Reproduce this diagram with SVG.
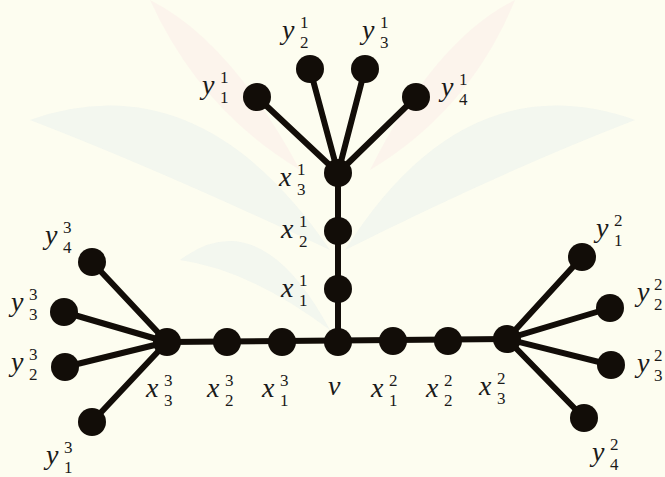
<svg xmlns="http://www.w3.org/2000/svg" width="665" height="477" viewBox="0 0 665 477">
<style>
.bg{fill:#fdfdf0}
.wm1{fill:#eef3ee;opacity:0.7}
.wm2{fill:#fbeeea;opacity:0.6}
.e{stroke:#120d08;stroke-width:6;stroke-linecap:round;fill:none}
.n{fill:#120d08}
text{font-family:"Liberation Serif","Times New Roman",serif}
.l{font-style:italic;font-size:28px;fill:#1a1a1a}
.s{font-size:17px;fill:#1a1a1a}
</style>
<rect class="bg" x="0" y="0" width="665" height="477"/>
<g id="watermark">
<path class="wm2" d="M150 0 Q230 40 300 170 Q200 110 150 0 Z"/>
<path class="wm2" d="M515 0 Q435 40 370 170 Q470 110 515 0 Z"/>
<path class="wm1" d="M30 120 Q200 60 330 250 Q160 170 30 120 Z"/>
<path class="wm1" d="M635 120 Q465 60 345 250 Q505 170 635 120 Z"/>
<path class="wm1" d="M180 260 Q260 200 330 330 Q250 270 180 260 Z"/>
</g>
<g id="connectors">
<line class="e" x1="338" y1="173" x2="338" y2="342"/>
<line class="e" x1="167" y1="342" x2="507" y2="339"/>
<line class="e" x1="338" y1="173" x2="257" y2="97"/>
<line class="e" x1="338" y1="173" x2="310" y2="69"/>
<line class="e" x1="338" y1="173" x2="365" y2="69"/>
<line class="e" x1="338" y1="173" x2="416" y2="97"/>
<line class="e" x1="167" y1="342" x2="92" y2="262"/>
<line class="e" x1="167" y1="342" x2="64" y2="312"/>
<line class="e" x1="167" y1="342" x2="65" y2="367"/>
<line class="e" x1="167" y1="342" x2="92" y2="422"/>
<line class="e" x1="507" y1="339" x2="582" y2="257"/>
<line class="e" x1="507" y1="339" x2="610" y2="308"/>
<line class="e" x1="507" y1="339" x2="611" y2="365"/>
<line class="e" x1="507" y1="339" x2="584" y2="418"/>
</g>
<g id="v"><circle class="n" cx="338" cy="342" r="14"/><text class="l" x="328" y="395">v</text></g>
<g id="x1_1"><circle class="n" cx="338" cy="289" r="14"/><text class="l" x="281" y="297">x</text><text class="s" x="299" y="286">1</text><text class="s" x="299" y="306">1</text></g>
<g id="x2_1"><circle class="n" cx="338" cy="231" r="14"/><text class="l" x="281" y="238">x</text><text class="s" x="299" y="227">1</text><text class="s" x="299" y="247">2</text></g>
<g id="x3_1"><circle class="n" cx="338" cy="173" r="14"/><text class="l" x="279" y="186">x</text><text class="s" x="297" y="175">1</text><text class="s" x="297" y="195">3</text></g>
<g id="y1_1"><circle class="n" cx="257" cy="97" r="14"/><text class="l" x="202" y="94">y</text><text class="s" x="220" y="83">1</text><text class="s" x="220" y="103">1</text></g>
<g id="y2_1"><circle class="n" cx="310" cy="69" r="14"/><text class="l" x="282" y="39">y</text><text class="s" x="300" y="28">1</text><text class="s" x="300" y="48">2</text></g>
<g id="y3_1"><circle class="n" cx="365" cy="69" r="14"/><text class="l" x="362" y="39">y</text><text class="s" x="380" y="28">1</text><text class="s" x="380" y="48">3</text></g>
<g id="y4_1"><circle class="n" cx="416" cy="97" r="14"/><text class="l" x="441" y="96">y</text><text class="s" x="459" y="85">1</text><text class="s" x="459" y="105">4</text></g>
<g id="x1_3"><circle class="n" cx="282" cy="342" r="14"/><text class="l" x="262" y="397">x</text><text class="s" x="280" y="386">3</text><text class="s" x="280" y="406">1</text></g>
<g id="x2_3"><circle class="n" cx="227" cy="342" r="14"/><text class="l" x="207" y="397">x</text><text class="s" x="225" y="386">3</text><text class="s" x="225" y="406">2</text></g>
<g id="x3_3"><circle class="n" cx="167" cy="342" r="14"/><text class="l" x="146" y="397">x</text><text class="s" x="164" y="386">3</text><text class="s" x="164" y="406">3</text></g>
<g id="y4_3"><circle class="n" cx="92" cy="262" r="14"/><text class="l" x="45" y="244">y</text><text class="s" x="63" y="233">3</text><text class="s" x="63" y="253">4</text></g>
<g id="y3_3"><circle class="n" cx="64" cy="312" r="14"/><text class="l" x="11" y="311">y</text><text class="s" x="29" y="300">3</text><text class="s" x="29" y="320">3</text></g>
<g id="y2_3"><circle class="n" cx="65" cy="367" r="14"/><text class="l" x="11" y="371">y</text><text class="s" x="29" y="360">3</text><text class="s" x="29" y="380">2</text></g>
<g id="y1_3"><circle class="n" cx="92" cy="422" r="14"/><text class="l" x="46" y="464">y</text><text class="s" x="64" y="453">3</text><text class="s" x="64" y="473">1</text></g>
<g id="x1_2"><circle class="n" cx="393" cy="341" r="14"/><text class="l" x="371" y="397">x</text><text class="s" x="389" y="386">2</text><text class="s" x="389" y="406">1</text></g>
<g id="x2_2"><circle class="n" cx="448" cy="341" r="14"/><text class="l" x="426" y="397">x</text><text class="s" x="444" y="386">2</text><text class="s" x="444" y="406">2</text></g>
<g id="x3_2"><circle class="n" cx="507" cy="339" r="14"/><text class="l" x="479" y="395">x</text><text class="s" x="497" y="384">2</text><text class="s" x="497" y="404">3</text></g>
<g id="y1_2"><circle class="n" cx="582" cy="257" r="14"/><text class="l" x="596" y="237">y</text><text class="s" x="614" y="226">2</text><text class="s" x="614" y="246">1</text></g>
<g id="y2_2"><circle class="n" cx="610" cy="308" r="14"/><text class="l" x="637" y="301">y</text><text class="s" x="654" y="290">2</text><text class="s" x="654" y="310">2</text></g>
<g id="y3_2"><circle class="n" cx="611" cy="365" r="14"/><text class="l" x="637" y="372">y</text><text class="s" x="654" y="361">2</text><text class="s" x="654" y="381">3</text></g>
<g id="y4_2"><circle class="n" cx="584" cy="418" r="14"/><text class="l" x="592" y="461">y</text><text class="s" x="610" y="450">2</text><text class="s" x="610" y="470">4</text></g>
</svg>
